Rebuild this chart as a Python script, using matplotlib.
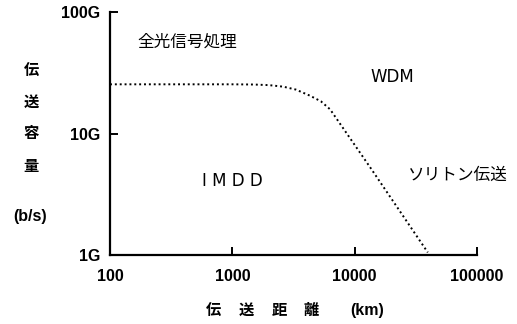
import matplotlib
matplotlib.use("Agg")
import matplotlib.pyplot as plt

plt.rcParams['font.family'] = ['Liberation Sans', 'Noto Sans CJK JP', 'DejaVu Sans']

# data
distance_km = [100, 1000, 1500, 2000, 2600, 3300, 4300, 5300, 6300, 13500, 39600]
capacity_G = [25.4, 25.4, 25.3, 25.0, 24.3, 23.0, 20.5, 18.4, 15.8, 5.2, 1.05]
x_ticks = [100, 1000, 10000, 100000]
x_tick_labels = ["100", "1000", "10000", "100000"]
y_ticks = [1, 10, 100]
y_tick_labels = ["1G", "10G", "100G"]
jp_regions = [("全光信号処理", 166, 56), ("ソリトン伝送", 27200, 4.5)]
en_regions = [("WDM", 13500, 29), ("I M D D", 568, 4.1)]

W, H = 517, 324
fig = plt.figure(figsize=(W / 100, H / 100), dpi=100)
ax = fig.add_axes([110 / W, 1 - 255 / H, (477 - 110) / W, (255 - 12) / H])
ax.set_xscale('log')
ax.set_yscale('log')
ax.set_xlim(100, 100000)
ax.set_ylim(1, 100)

ax.plot(distance_km, capacity_G, color='black', linewidth=1.4, linestyle=(0, (1, 1.5)))

for s in ['top', 'right']:
    ax.spines[s].set_visible(False)
for s in ['left', 'bottom']:
    ax.spines[s].set_linewidth(1.6)

ax.set_xticks(x_ticks)
ax.set_xticklabels(x_tick_labels, fontsize=11.5, fontweight='bold')
ax.set_yticks(y_ticks)
ax.set_yticklabels(y_tick_labels, fontsize=11.5, fontweight='bold')
ax.minorticks_off()
ax.tick_params(axis='x', direction='in', length=6, width=1.4, pad=10)
ax.tick_params(axis='y', direction='in', length=6, width=1.4, pad=7)
xt = ax.xaxis.get_major_ticks()
xt[0].tick1line.set_visible(False)
yt = ax.yaxis.get_major_ticks()
yt[0].tick1line.set_visible(False)

for txt, x, y in jp_regions:
    ax.text(x, y, txt, fontsize=12, ha='left', va='center',
            family=['Noto Sans CJK JP', 'Liberation Sans'])
for txt, x, y in en_regions:
    ax.text(x, y, txt, fontsize=12, ha='left', va='center', family=['DejaVu Sans'])

# y-axis label (vertical stack)
for ch, py in [("伝", 70), ("送", 102), ("容", 133), ("量", 166)]:
    fig.text(31 / W, 1 - py / H, ch, fontsize=11, fontweight='bold', ha='center', va='center',
             family=['Noto Sans CJK JP'])
fig.text(30 / W, 1 - 217 / H, "(b/s)", fontsize=11.5, fontweight='bold', ha='center', va='center')

# x-axis label
for ch, px in [("伝", 213), ("送", 246), ("距", 279), ("離", 311)]:
    fig.text(px / W, 1 - 310 / H, ch, fontsize=11, fontweight='bold', ha='center', va='center',
             family=['Noto Sans CJK JP'])
fig.text(367 / W, 1 - 310 / H, "(km)", fontsize=11.5, fontweight='bold', ha='center', va='center')

fig.savefig("out.png", dpi=100)
